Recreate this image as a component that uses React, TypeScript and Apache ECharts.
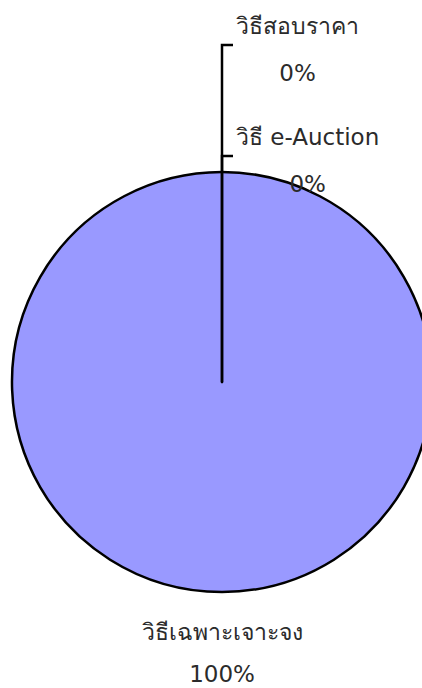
import React, { useEffect, useRef } from "react";
import * as echarts from "echarts";

const categories = ["วิธีเฉพาะเจาะจง", "วิธีสอบราคา", "วิธี e-Auction"];
const values = [100, 0, 0];

const CX = 222;
const CY = 382;
const R = 210;

export default function App() {
  const ref = useRef<HTMLDivElement>(null);
  useEffect(() => {
    if (!ref.current) return;
    const chart = echarts.init(ref.current, undefined, { renderer: "svg" });
    const leaders: Record<number, number> = { 1: 45, 2: 156 };
    chart.setOption({
      animation: false,
      backgroundColor: "#ffffff",
      series: [
        {
          type: "pie",
          center: [CX, CY],
          radius: R,
          startAngle: 90,
          clockwise: true,
          avoidLabelOverlap: false,
          itemStyle: { color: "#9999FF", borderColor: "#000000", borderWidth: 2.5 },
          emphasis: { disabled: true },
          label: {
            show: true,
            formatter: "{b}\n{d}%",
            fontFamily: "DejaVu Sans, Noto Sans, sans-serif",
            fontSize: 23,
            lineHeight: 47,
            color: "#2b2b2b",
            align: "center",
          },
          labelLine: { show: true, lineStyle: { color: "#000000", width: 2.5 } },
          labelLayout: (params: any) => {
            const i = params.dataIndex;
            if (i === 0) {
              return { x: CX, y: 653, align: "center", verticalAlign: "middle" };
            }
            const y = leaders[i];
            const w = params.labelRect.width;
            return {
              x: 236 + w / 2,
              y: y + 4,
              align: "center",
              verticalAlign: "middle",
              labelLinePoints: [
                [CX, i === 1 ? CY : CY - R],
                [CX, y],
                [233, y],
              ],
            };
          },
          data: categories.map((name, i) => ({
            name,
            value: values[i],
            labelLine: { show: i !== 0 },
            label: i === 0 ? { lineHeight: 42 } : undefined,
          })),
        },
      ],
    });
    return () => chart.dispose();
  }, []);
  return (
    <div
      ref={ref}
      style={{ position: "absolute", left: 0, top: 0, width: 422, height: 688 }}
    />
  );
}
